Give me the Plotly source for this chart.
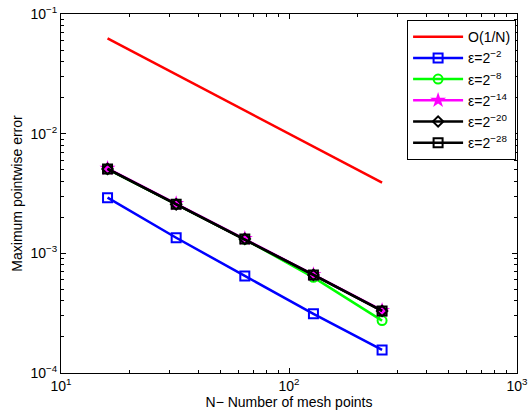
import plotly.graph_objects as go

N = [16, 32, 64, 128, 256]
ref_1N = [1/16, 1/32, 1/64, 1/128, 1/256]
err_e2 = [2.92e-3, 1.35e-3, 6.47e-4, 3.12e-4, 1.56e-4]
err_e8 = [5.05e-3, 2.58e-3, 1.31e-3, 6.30e-4, 2.74e-4]
err_e14 = [5.12e-3, 2.60e-3, 1.33e-3, 6.65e-4, 3.33e-4]
err_e20 = [5.07e-3, 2.57e-3, 1.32e-3, 6.60e-4, 3.30e-4]
err_e28 = [5.07e-3, 2.57e-3, 1.32e-3, 6.60e-4, 3.30e-4]

names = ["O(1/N)", "ε=2<sup>−2</sup>", "ε=2<sup>−8</sup>", "ε=2<sup>−14</sup>",
         "ε=2<sup>−20</sup>", "ε=2<sup>−28</sup>"]

FONT = "Liberation Sans, Arial, Helvetica"

fig = go.Figure()
fig.add_trace(go.Scatter(x=N, y=ref_1N, mode="lines", name=names[0], legendgroup="a",
                         line=dict(color="#ff0000", width=2.5)))
fig.add_trace(go.Scatter(x=N, y=err_e2, mode="lines+markers", name=names[1], legendgroup="b",
                         line=dict(color="#0000ff", width=2.5),
                         marker=dict(symbol="square-open", size=9, color="#0000ff",
                                     line=dict(width=2, color="#0000ff"))))
fig.add_trace(go.Scatter(x=N, y=err_e8, mode="lines+markers", name=names[2], legendgroup="c",
                         line=dict(color="#00ff00", width=2.5),
                         marker=dict(symbol="circle-open", size=9, color="#00ff00",
                                     line=dict(width=2, color="#00ff00"))))
fig.add_trace(go.Scatter(x=N, y=err_e14, mode="lines+markers", name=names[3], legendgroup="d",
                         line=dict(color="#ff00ff", width=2.5),
                         marker=dict(symbol="star", size=12, color="#ff00ff",
                                     line=dict(width=0))))
fig.add_trace(go.Scatter(x=N, y=err_e20, mode="lines+markers", name=names[4], legendgroup="e",
                         line=dict(color="#000000", width=2.5),
                         marker=dict(symbol="diamond-open", size=8, color="#000000",
                                     line=dict(width=2, color="#000000"))))
fig.add_trace(go.Scatter(x=N, y=err_e28, mode="lines+markers", name=names[5], legendgroup="f",
                         line=dict(color="#000000", width=2.5),
                         marker=dict(symbol="square-open", size=9, color="#000000",
                                     line=dict(width=2, color="#000000"))))

xminor = [v * d for v in (10, 100) for d in range(2, 10)]
yminor = [v * d for v in (1e-4, 1e-3, 1e-2) for d in range(2, 10)]

axis_common = dict(type="log", showgrid=False, zeroline=False, showline=True,
                   linecolor="black", linewidth=1, mirror="allticks",
                   ticks="inside", ticklen=5, tickcolor="black", automargin=False,
                   ticklabeloverflow="allow",
                   tickfont=dict(family=FONT, size=14, color="black"))

fig.update_xaxes(**axis_common, range=[1, 3],
                 tickvals=[10, 100, 1000],
                 ticktext=["10<sup>1</sup>", "10<sup>2</sup>", "10<sup>3</sup>"],
                 minor=dict(tickvals=xminor, ticks="inside", ticklen=3, tickcolor="black"),
                 title=dict(text="N− Number of mesh points", standoff=4,
                            font=dict(family=FONT, size=14, color="black")))
fig.update_yaxes(**axis_common, range=[-4, -1],
                 tickvals=[1e-4, 1e-3, 1e-2, 1e-1],
                 ticktext=["10<sup>−4</sup>", "10<sup>−3</sup>", "10<sup>−2</sup>", "10<sup>−1</sup>"],
                 minor=dict(tickvals=yminor, ticks="inside", ticklen=3, tickcolor="black"),
                 title=dict(text="Maximum pointwise error", standoff=4,
                            font=dict(family=FONT, size=14, color="black")))

fig.update_layout(
    width=528, height=419,
    margin=dict(l=61, r=11, t=14, b=46),
    paper_bgcolor="white", plot_bgcolor="white",
    font=dict(family=FONT, size=14, color="black"),
    legend=dict(x=0.998, y=0.983, xanchor="right", yanchor="top",
                bgcolor="white", bordercolor="black", borderwidth=1,
                font=dict(family=FONT, size=14, color="black"),
                traceorder="grouped", tracegroupgap=0, itemwidth=50),
    showlegend=True,
)

fig.write_html("out.html", config={"displayModeBar": False},
               post_script="document.body.style.margin='0';")
